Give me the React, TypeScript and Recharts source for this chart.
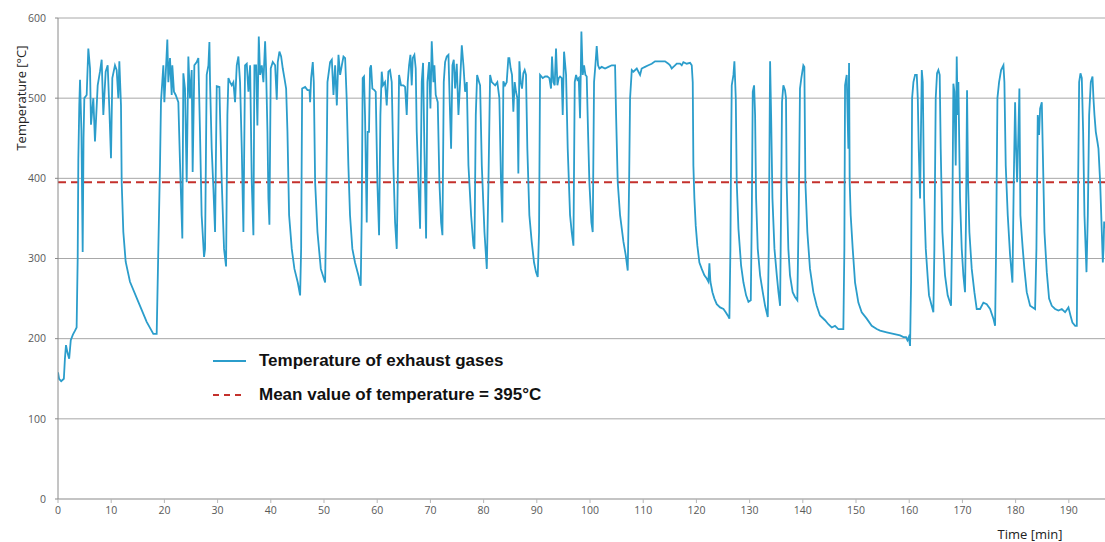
import React from "react";
import { LineChart, Line, XAxis, YAxis, CartesianGrid, ReferenceLine, Legend } from "recharts";

const LINE_COLOR = "#2b9dcb";
const MEAN_COLOR = "#c4312c";
const GRID_COLOR = "#a8a8a8";

const xTicks = [0, 10, 20, 30, 40, 50, 60, 70, 80, 90, 100, 110, 120, 130, 140, 150, 160, 170, 180, 190];
const yTicks = [0, 100, 200, 300, 400, 500, 600];
const meanTemperature = 395;

// [time min, temperature °C], in chunks of ~27 min
const run0to28: [number, number][] = [
  [0, 158], [0.2, 150], [0.6, 147], [1.1, 150], [1.3, 175], [1.5, 192], [1.8, 182], [2.1, 175], [2.4, 198], [2.8, 205],
  [3.2, 210], [3.5, 214], [3.7, 300], [3.82, 423], [4.0, 491], [4.14, 523], [4.4, 460], [4.64, 308], [4.8, 450], [4.95, 500],
  [5.39, 504], [5.7, 562], [6.02, 537], [6.2, 467], [6.64, 500], [6.95, 446], [7.46, 516], [7.89, 533], [8.21, 548], [8.52, 479],
  [8.96, 533], [9.34, 541], [9.65, 487], [9.96, 425], [10.21, 525], [10.71, 541], [11.03, 535], [11.34, 500], [11.53, 546], [11.84, 491],
  [11.97, 395], [12.28, 333], [12.72, 296], [13.53, 271], [15.1, 246], [16.67, 221], [17.92, 206], [18.55, 206], [18.86, 312], [19.17, 416],
  [19.36, 496], [19.61, 521], [19.8, 541], [19.99, 495], [20.24, 529], [20.55, 573], [20.74, 520], [21.05, 550], [21.37, 504], [21.49, 541],
  [21.8, 508], [22.12, 504], [22.62, 495], [22.93, 420], [23.12, 379], [23.37, 325], [23.56, 531], [23.87, 512], [24.19, 395], [24.5, 552],
  [24.81, 500], [25.13, 535], [25.31, 408], [25.63, 541], [26.07, 545], [26.38, 550], [26.69, 458], [27.0, 354], [27.45, 302],
];

const run28to54: [number, number][] = [
  [27.64, 312], [27.95, 529], [28.27, 541], [28.46, 570], [28.58, 520], [28.89, 437], [29.21, 387], [29.52, 333], [29.84, 515], [30.34, 514],
  [30.46, 479], [30.78, 395], [31.21, 312], [31.59, 290], [31.84, 479], [32.03, 525], [32.34, 520], [32.66, 516], [32.97, 520], [33.28, 495],
  [33.6, 541], [33.91, 552], [34.22, 520], [34.54, 437], [34.85, 333], [35.16, 541], [35.48, 543], [35.79, 508], [36.11, 541], [36.42, 395],
  [36.73, 329], [36.92, 541], [37.23, 541], [37.48, 466], [37.74, 577], [37.99, 529], [38.3, 541], [38.61, 520], [38.93, 571], [39.11, 537],
  [39.37, 458], [39.55, 375], [39.74, 342], [39.99, 537], [40.37, 545], [40.81, 541], [41.12, 498], [41.31, 545], [41.62, 558], [41.94, 552],
  [42.25, 537], [42.56, 525], [42.88, 512], [43.13, 458], [43.44, 354], [43.94, 312], [44.44, 287], [45.07, 270], [45.51, 254], [45.7, 312],
  [45.89, 512], [46.45, 514], [46.89, 510], [47.27, 510], [47.39, 495], [47.58, 525], [47.89, 545], [48.08, 520], [48.33, 395], [48.77, 333],
  [49.4, 287], [50.21, 270], [50.4, 354], [50.65, 520], [51.15, 545], [51.47, 548], [51.78, 504], [52.09, 541], [52.41, 491], [52.72, 554],
  [53.03, 529], [53.35, 541], [53.66, 552], [53.97, 550],
];

const run54to82: [number, number][] = [
  [54.26, 500], [54.58, 416], [54.89, 354], [55.33, 312], [55.83, 295], [56.46, 279], [56.9, 266], [57.09, 354], [57.27, 525], [57.52, 527],
  [57.71, 479], [58.03, 345], [58.21, 458], [58.46, 458], [58.65, 537], [58.84, 541], [59.09, 512], [59.47, 510], [59.72, 508], [60.03, 395],
  [60.35, 329], [60.6, 479], [60.85, 533], [61.1, 516], [61.47, 520], [61.79, 491], [62.1, 533], [62.41, 535], [62.73, 520], [63.04, 416],
  [63.36, 345], [63.67, 312], [63.86, 395], [64.11, 529], [64.48, 516], [64.92, 516], [65.24, 514], [65.55, 479], [65.74, 520], [65.99, 541],
  [66.24, 554], [66.49, 516], [66.68, 550], [66.99, 554], [67.24, 537], [67.43, 458], [67.74, 395], [68.06, 337], [68.37, 520], [68.62, 544],
  [68.87, 437], [69.19, 325], [69.44, 520], [69.75, 545], [70.0, 487], [70.25, 571], [70.57, 520], [70.75, 541], [71.0, 504], [71.38, 495],
  [71.69, 395], [72.01, 345], [72.26, 329], [72.51, 520], [72.76, 545], [73.07, 552], [73.39, 554], [73.7, 479], [73.89, 437], [74.14, 541],
  [74.39, 548], [74.64, 512], [74.95, 543], [75.27, 479], [75.58, 520], [75.9, 566], [76.21, 541], [76.52, 508], [76.84, 520], [77.15, 416],
  [77.65, 354], [78.09, 316], [78.28, 312], [78.53, 479], [78.78, 529], [79.16, 520], [79.34, 516], [79.66, 416], [80.16, 333], [80.6, 287],
  [80.91, 395], [81.22, 529], [81.54, 520], [82.17, 516],
];

const run82to109: [number, number][] = [
  [82.58, 520], [82.96, 500], [83.27, 395], [83.52, 345], [83.71, 521], [84.02, 516], [84.34, 520], [84.65, 550], [84.84, 550], [85.09, 537],
  [85.34, 529], [85.59, 483], [85.84, 520], [86.09, 508], [86.34, 500], [86.53, 406], [86.72, 546], [86.97, 520], [87.22, 512], [87.47, 531],
  [87.72, 535], [87.97, 529], [88.22, 437], [88.6, 354], [89.04, 321], [89.48, 295], [89.85, 283], [90.17, 277], [90.42, 333], [90.61, 529],
  [91.11, 525], [91.55, 527], [91.98, 527], [92.36, 525], [92.67, 512], [92.86, 552], [93.11, 520], [93.36, 516], [93.61, 562], [93.87, 516],
  [94.12, 525], [94.37, 527], [94.68, 525], [94.87, 479], [95.12, 558], [95.5, 529], [95.81, 437], [96.25, 354], [96.56, 333], [96.88, 316],
  [97.13, 520], [97.38, 529], [97.63, 523], [97.88, 525], [98.13, 475], [98.38, 583], [98.63, 529], [98.88, 541], [99.13, 529], [99.38, 527],
  [99.63, 458], [99.88, 395], [100.26, 345], [100.51, 333], [100.76, 520], [101.01, 541], [101.26, 565], [101.51, 541], [101.77, 537], [102.2, 539],
  [102.83, 537], [103.46, 539], [104.09, 541], [104.71, 541], [104.9, 479], [105.21, 395], [105.65, 354], [106.28, 321], [106.72, 304], [107.09, 285],
  [107.35, 395], [107.53, 500], [107.85, 535], [108.16, 533], [108.79, 537],
];

const run109to136: [number, number][] = [
  [109.41, 529], [109.71, 537], [110.34, 539], [110.97, 541], [111.6, 543], [112.22, 546], [112.85, 546], [113.48, 546], [114.1, 546], [114.73, 543],
  [115.04, 541], [115.36, 537], [115.67, 539], [115.98, 541], [116.3, 543], [116.92, 543], [117.24, 541], [117.55, 545], [118.18, 543], [118.81, 544],
  [119.12, 541], [119.31, 520], [119.43, 416], [119.62, 375], [119.87, 341], [120.18, 316], [120.56, 295], [121.0, 287], [121.5, 279], [121.94, 275],
  [122.25, 271], [122.44, 294], [122.63, 271], [123.01, 258], [123.38, 250], [123.82, 243], [124.45, 239], [125.08, 237], [125.51, 233], [125.89, 229],
  [126.2, 225], [126.39, 312], [126.52, 437], [126.64, 516], [126.96, 529], [127.14, 546], [127.4, 500], [127.58, 395], [127.9, 337], [128.4, 291],
  [128.84, 270], [129.34, 254], [129.78, 246], [130.22, 248], [130.41, 354], [130.59, 508], [130.84, 516], [131.03, 479], [131.22, 375], [131.53, 312],
  [131.97, 279], [132.47, 258], [132.91, 241], [133.41, 227], [133.6, 312], [133.73, 437], [133.85, 546], [134.04, 479], [134.29, 375], [134.67, 312],
  [135.11, 279], [135.42, 258], [135.73, 241],
];

const run136to163: [number, number][] = [
  [135.9, 354], [136.09, 495], [136.34, 516], [136.65, 510], [136.84, 500], [136.96, 395], [137.28, 312], [137.59, 279], [138.09, 258], [138.53, 252],
  [138.97, 248], [139.22, 354], [139.47, 512], [139.72, 525], [140.1, 541], [140.29, 539], [140.48, 395], [140.85, 333], [141.35, 287], [141.98, 258],
  [142.61, 241], [143.23, 229], [144.17, 223], [144.8, 218], [145.43, 214], [146.05, 216], [146.68, 212], [147.62, 212], [147.81, 312], [147.94, 516],
  [148.25, 529], [148.56, 437], [148.69, 544], [148.81, 395], [149.0, 354], [149.38, 312], [149.82, 270], [150.44, 245], [151.07, 233], [152.01, 225],
  [152.95, 216], [153.89, 212], [154.52, 210], [155.77, 208], [157.03, 206], [158.28, 204], [158.91, 202], [159.41, 202], [159.66, 198], [159.91, 202],
  [160.16, 191], [160.35, 270], [160.54, 500], [160.79, 520], [161.1, 529], [161.42, 529], [161.61, 500], [161.79, 437], [162.04, 375], [162.36, 535],
  [162.55, 520], [162.8, 375], [163.11, 312], [163.49, 275],
];

const run163to197: [number, number][] = [
  [163.72, 254], [164.22, 241], [164.54, 233], [164.73, 312], [164.98, 500], [165.23, 531], [165.48, 535], [165.73, 529], [165.92, 437], [166.23, 333],
  [166.73, 279], [167.23, 254], [167.86, 241], [168.11, 354], [168.3, 518], [168.49, 508], [168.74, 416], [168.93, 552], [169.11, 479], [169.24, 520],
  [169.55, 375], [169.87, 312], [170.18, 279], [170.49, 258], [170.68, 354], [170.87, 510], [171.06, 395], [171.31, 333], [171.75, 287], [172.25, 258],
  [172.69, 237], [173.32, 237], [173.94, 245], [174.57, 243], [175.2, 237], [175.82, 225], [176.14, 216], [176.33, 312], [176.58, 500], [176.89, 520],
  [177.27, 535], [177.71, 541], [177.89, 520], [178.14, 416], [178.52, 354], [178.96, 304], [179.4, 270], [179.65, 395], [179.9, 495], [180.09, 437],
  [180.28, 395], [180.53, 458], [180.71, 512], [180.9, 354], [181.15, 329], [181.34, 312], [181.65, 287], [182.09, 258], [182.72, 241], [183.66, 237],
  [183.91, 312], [184.16, 479], [184.41, 454], [184.6, 487], [184.92, 495], [185.1, 437], [185.42, 333], [185.86, 283], [186.29, 250], [186.8, 241],
  [187.42, 237], [188.05, 235], [188.68, 237], [189.3, 233], [189.93, 239], [190.31, 229], [190.68, 220], [191.19, 216], [191.5, 216], [191.69, 354],
  [191.94, 520], [192.19, 531], [192.44, 525], [192.69, 458], [192.94, 354], [193.32, 283], [193.57, 354], [193.82, 479], [194.13, 520], [194.45, 527],
  [194.63, 500], [194.82, 479], [195.07, 458], [195.39, 445], [195.57, 437], [195.89, 395], [196.2, 333], [196.39, 295], [196.52, 312], [196.64, 346],
  [196.83, 337],
];

const data = [run0to28, run28to54, run54to82, run82to109, run109to136, run136to163, run163to197]
  .flat()
  .map(([time, temp]) => ({ time, temp }));

const legendItems = [
  { label: "Temperature of exhaust gases", color: LINE_COLOR, dash: undefined as string | undefined },
  { label: `Mean value of temperature = ${meanTemperature}°C`, color: MEAN_COLOR, dash: "6 5" },
];

const ChartLegend = () => (
  <div style={{ fontFamily: "'Liberation Sans', Arial, sans-serif", fontWeight: 700, fontSize: 17, color: "#111" }}>
    {legendItems.map((item) => (
      <div key={item.label} style={{ display: "flex", alignItems: "center", height: 34 }}>
        <svg width={44} height={10} style={{ marginRight: 10 }}>
          <line x1={8} y1={5} x2={41} y2={5} stroke={item.color} strokeWidth={2} strokeDasharray={item.dash} />
        </svg>
        <span>{item.label}</span>
      </div>
    ))}
  </div>
);

type AxisLabelProps = { viewBox?: { x: number; y: number; width: number; height: number } };

const YTitle = ({ viewBox }: AxisLabelProps) => {
  if (!viewBox) return null;
  const cx = viewBox.x + 21;
  const cy = viewBox.y + 80;
  return (
    <text x={cx} y={cy} transform={`rotate(-90 ${cx} ${cy})`} textAnchor="middle" dominantBaseline="central"
      fontFamily="'Open Sans', sans-serif" fontSize={13} fill="#222">
      Temperature [°C]
    </text>
  );
};

const XTitle = ({ viewBox }: AxisLabelProps) => {
  if (!viewBox) return null;
  return (
    <text x={viewBox.x + viewBox.width - 75} y={viewBox.y + viewBox.height - 3} textAnchor="middle"
      fontFamily="'Open Sans', sans-serif" fontSize={13} fill="#222">
      Time [min]
    </text>
  );
};

const tickStyle = { fontFamily: "'Open Sans', sans-serif", fontSize: 10.5, fill: "#595959" };

export default function App() {
  return (
    <div style={{ position: "absolute", left: 0, top: 0, width: 1105, height: 542, background: "#fff" }}>
      <LineChart width={1105} height={542} data={data} margin={{ top: 18, right: 0, left: 0, bottom: 0 }}>
        <CartesianGrid vertical={false} stroke={GRID_COLOR} />
        <XAxis
          type="number"
          dataKey="time"
          domain={[0, 196.8]}
          ticks={xTicks}
          allowDataOverflow
          height={43}
          tickSize={4}
          tickMargin={4}
          stroke="#b5b5b5"
          tick={tickStyle}
          label={<XTitle />}
        />
        <YAxis
          type="number"
          domain={[0, 600]}
          ticks={yTicks}
          width={58}
          tickSize={3}
          tickMargin={9}
          stroke="#8a8a8a"
          tick={tickStyle}
          label={<YTitle />}
        />
        <ReferenceLine y={meanTemperature} stroke={MEAN_COLOR} strokeWidth={2} strokeDasharray="8 5" />
        <Line
          type="linear"
          dataKey="temp"
          stroke={LINE_COLOR}
          strokeWidth={1.8}
          dot={false}
          isAnimationActive={false}
        />
        <Legend
          layout="horizontal"
          verticalAlign="middle"
          align="center"
          content={<ChartLegend />}
          wrapperStyle={{ left: 205, top: 344, width: "auto" }}
        />
      </LineChart>
    </div>
  );
}
